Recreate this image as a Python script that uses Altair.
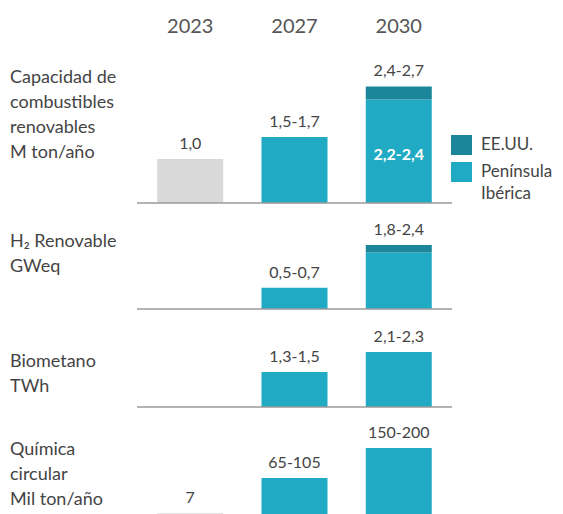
import altair as alt
import pandas as pd

FONT = "Lato"
TXT = "#444444"

years = ["2023", "2027", "2030"]
segments = ["EE.UU.", "Península Ibérica", "Actual"]
seg_colors = ["#1b8599", "#21aac3", "#d9d9d9"]
seg_order = {"Península Ibérica": 0, "EE.UU.": 1, "Actual": 0}

# Row 1: Capacidad de combustibles renovables (M ton/año)
r1_year = ["2023", "2027", "2030", "2030"]
r1_seg = ["Actual", "Península Ibérica", "Península Ibérica", "EE.UU."]
r1_val = [1.0, 1.5, 2.35, 0.3]
r1_lab_year = ["2023", "2027", "2030"]
r1_lab_text = ["1,0", "1,5-1,7", "2,4-2,7"]
r1_inner_text = "2,2-2,4"

# Row 2: H2 Renovable (GWeq)
r2_year = ["2027", "2030", "2030"]
r2_seg = ["Península Ibérica", "Península Ibérica", "EE.UU."]
r2_val = [0.7, 1.85, 0.25]
r2_lab_year = ["2027", "2030"]
r2_lab_text = ["0,5-0,7", "1,8-2,4"]

# Row 3: Biometano (TWh)
r3_year = ["2027", "2030"]
r3_seg = ["Península Ibérica", "Península Ibérica"]
r3_val = [1.4, 2.2]
r3_lab_year = ["2027", "2030"]
r3_lab_text = ["1,3-1,5", "2,1-2,3"]

# Row 4: Química circular (Mil ton/año)
r4_year = ["2023", "2027", "2030"]
r4_seg = ["Actual", "Península Ibérica", "Península Ibérica"]
r4_val = [7, 95, 170]
r4_lab_year = ["2023", "2027", "2030"]
r4_lab_text = ["7", "65-105", "150-200"]

row_titles = [
    "Capacidad de\ncombustibles\nrenovables\nM ton/año",
    "H₂ Renovable\nGWeq",
    "Biometano\nTWh",
    "Química\ncircular\nMil ton/año",
]
legend_labels = ["EE.UU.", "Península\nIbérica"]

W = 315


def xenc(xaxis=None):
    return alt.X("year:N", scale=alt.Scale(domain=years, paddingInner=0.367,
                                            paddingOuter=0.194), axis=xaxis)


def make_row(yrs, segs, vals, lab_years, lab_texts, height, ymax, title, title_y,
             top_axis=False, inner_text=None, legend=False):
    bars = pd.DataFrame({"year": yrs, "segment": segs, "value": vals})
    bars["ord"] = bars["segment"].map(seg_order)
    totals = bars.groupby("year", as_index=False)["value"].sum()
    labs = pd.DataFrame({"year": lab_years, "label": lab_texts}).merge(totals, on="year")

    if top_axis:
        xaxis = alt.Axis(orient="top", domain=False, ticks=False, tickSize=0,
                         labelFontSize=20, labelColor="#555555", labelFont=FONT,
                         labelPadding=24, labelAngle=0, title=None)
    else:
        xaxis = None
    ys = alt.Scale(domain=[0, ymax], nice=False, zero=True)

    bar = alt.Chart(bars).mark_bar().encode(
        x=xenc(xaxis),
        y=alt.Y("value:Q", stack="zero", scale=ys, axis=None),
        color=alt.Color("segment:N", scale=alt.Scale(domain=segments, range=seg_colors),
                        legend=None),
        order=alt.Order("ord:Q"),
    )
    rule = alt.Chart(pd.DataFrame({"base": [0]})).mark_rule(
        color="#9a9a9a", strokeWidth=1.5).encode(y=alt.Y("base:Q", scale=ys, axis=None))
    text = alt.Chart(labs).mark_text(fontSize=16, font=FONT, color=TXT,
                                     baseline="middle", dy=-15).encode(
        x=xenc(xaxis),
        y=alt.Y("value:Q", scale=ys, axis=None),
        text="label:N",
    )
    ttl = alt.Chart(pd.DataFrame({"t": [title]})).mark_text(
        fontSize=18, font=FONT, color=TXT, align="left", baseline="middle",
        lineBreak="\n", lineHeight=25).encode(
        x=alt.value(-127), y=alt.value(title_y), text="t:N")
    layers = [bar, rule, text, ttl]
    if inner_text is not None:
        inner = bars[(bars["year"] == "2030") & (bars["segment"] == "Península Ibérica")].copy()
        inner["mid"] = inner["value"] / 2
        inner["label"] = inner_text
        layers.append(alt.Chart(inner).mark_text(
            fontSize=16, font=FONT, color="white", fontWeight="bold",
            baseline="middle", dy=4).encode(
            x=xenc(xaxis),
            y=alt.Y("mid:Q", scale=ys, axis=None),
            text="label:N"))
    if legend:
        for i, (lab, col) in enumerate(zip(legend_labels, seg_colors[:2])):
            y0 = 75 + i * 27
            layers.append(alt.Chart(pd.DataFrame({"t": [lab]})).mark_rect(color=col).encode(
                x=alt.value(314), x2=alt.value(335), y=alt.value(y0), y2=alt.value(y0 + 20)))
            layers.append(alt.Chart(pd.DataFrame({"t": [lab]})).mark_text(
                fontSize=17, font=FONT, color=TXT, align="left", baseline="middle",
                lineBreak="\n", lineHeight=22).encode(
                x=alt.value(344), y=alt.value(y0 + 10), text="t:N"))
    return alt.layer(*layers).properties(width=W, height=height)


row1 = make_row(r1_year, r1_seg, r1_val, r1_lab_year, r1_lab_text, 143, 143 / 44,
                row_titles[0], 18, top_axis=True, inner_text=r1_inner_text, legend=True)
row2 = make_row(r2_year, r2_seg, r2_val, r2_lab_year, r2_lab_text, 89, 89 / 30.48,
                row_titles[1], 22)
row3 = make_row(r3_year, r3_seg, r3_val, r3_lab_year, r3_lab_text, 81, 81 / 25.0,
                row_titles[2], 36)
row4 = make_row(r4_year, r4_seg, r4_val, r4_lab_year, r4_lab_text, 92, 92 / 0.4,
                row_titles[3], 26)

chart = alt.vconcat(row1, row2, row3, row4, spacing=17, bounds="flush").properties(
    padding={"left": 2, "top": 8, "right": 0, "bottom": 0}
).configure(font=FONT).configure_view(strokeWidth=0, stroke="transparent")

chart.save("out.html", embed_options={"renderer": "svg", "actions": False})
